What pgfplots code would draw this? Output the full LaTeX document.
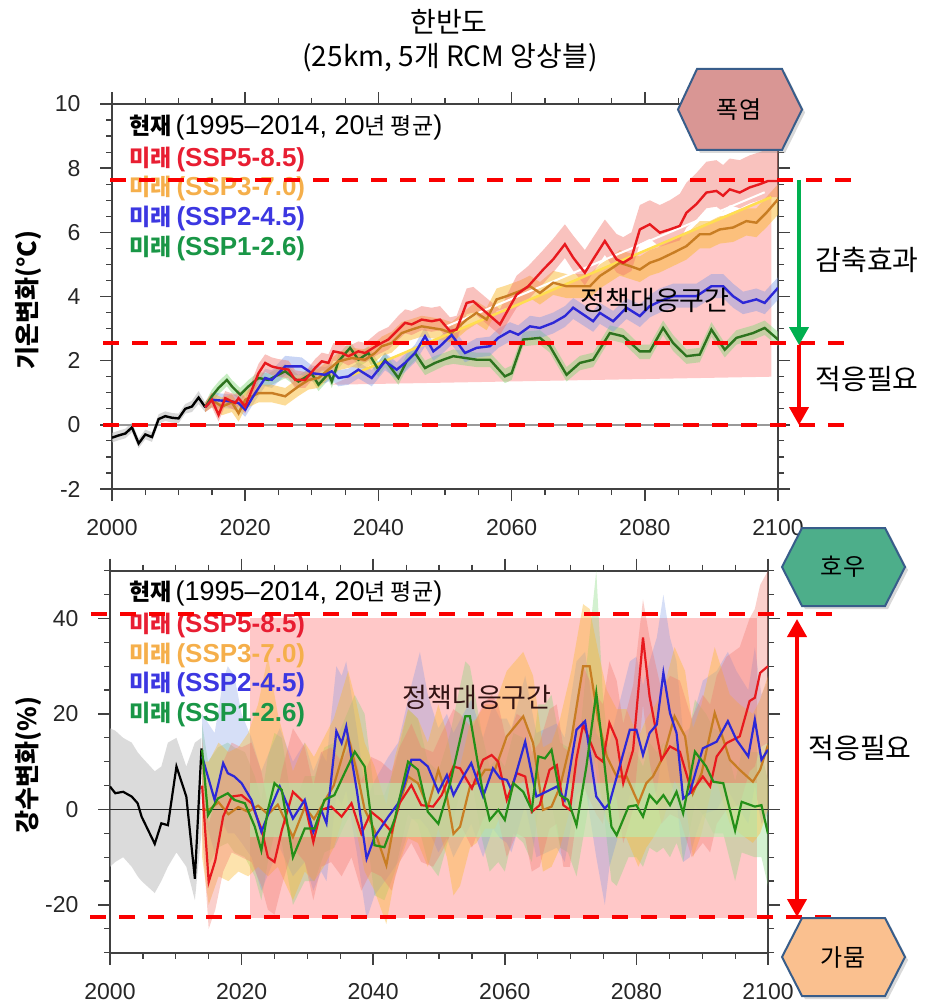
\documentclass[border=0pt]{standalone}
\usepackage{pgfplots}
\pgfplotsset{compat=1.18}
\usepackage{pgfplotstable}
\usepgfplotslibrary{fillbetween}
\usetikzlibrary{shadows,arrows.meta}
\usepackage{fontspec}
\setmainfont{Noto Sans CJK KR}
\newfontfamily\ticksans{Liberation Sans}
\newfontfamily\lat{Liberation Sans}
\newcommand\fs[1]{\fontsize{#1}{#1}\selectfont}

\definecolor{cRed}{RGB}{232,25,30}
\definecolor{cOrange}{RGB}{200,125,35}
\definecolor{cBlue}{RGB}{45,40,215}
\definecolor{cGreen}{RGB}{45,115,30}
\definecolor{lRed}{RGB}{232,30,50}
\definecolor{lOrange}{RGB}{245,175,75}
\definecolor{lBlue}{RGB}{60,55,225}
\definecolor{lGreen}{RGB}{25,150,70}
\definecolor{bRed}{RGB}{242,120,110}
\definecolor{bOrange}{RGB}{250,185,50}
\definecolor{bBlue}{RGB}{120,150,230}
\definecolor{bGreen}{RGB}{130,215,120}
\definecolor{bGray}{RGB}{190,190,190}
\definecolor{cPink}{RGB}{255,200,200}
\definecolor{cGband}{RGB}{185,240,175}
\definecolor{axgray}{RGB}{65,65,65}
\definecolor{dRed}{RGB}{250,0,0}
\definecolor{aGreen}{RGB}{0,176,80}
\definecolor{hexB}{RGB}{56,93,138}
\definecolor{hex1}{RGB}{217,150,148}
\definecolor{hex2}{RGB}{77,174,138}
\definecolor{hex3}{RGB}{250,192,143}

% ---------------- top panel (temperature) ----------------
\pgfplotstableread{
x y lo hi
2000 -0.40 -0.55 -0.25
2001 -0.33 -0.48 -0.18
2002 -0.27 -0.42 -0.12
2003 -0.08 -0.23 0.07
2004 -0.58 -0.73 -0.43
2005 -0.30 -0.45 -0.15
2006 -0.38 -0.53 -0.23
2007 0.18 0.03 0.33
2008 0.27 0.12 0.42
2009 0.22 0.07 0.37
2010 0.20 0.05 0.35
2011 0.50 0.35 0.65
2012 0.57 0.40 0.75
2013 0.85 0.65 1.05
2014 0.55 0.40 0.70
}\tTblack
\pgfplotstableread{
x y lo hi
2014 0.55 0.40 0.70
2015 0.78 0.55 1.00
2016 0.31 0.10 0.55
2017 0.83 0.60 1.05
2018.5 0.68 0.45 0.95
2019 0.83 0.60 1.10
2020 0.57 0.35 0.85
2022 1.61 1.35 1.90
2023 1.93 1.65 2.20
2024 1.82 1.55 2.10
2025 1.77 1.50 2.05
2026.5 1.72 1.45 2.00
2027.5 1.40 1.15 1.70
2029 1.40 1.15 1.65
2030.5 1.77 1.50 2.05
2031.5 1.98 1.70 2.25
2032.5 1.93 1.65 2.20
2033.25 2.29 2.00 2.55
2034.5 2.24 1.95 2.50
2035.5 2.14 1.85 2.45
2037 2.29 2.00 2.60
2038 2.24 1.95 2.55
2040 2.50 2.20 2.90
2041.5 2.66 2.35 3.05
2043 2.97 2.65 3.40
2044 3.18 2.85 3.60
2045 3.13 2.80 3.55
2046.5 3.28 2.95 3.70
2048 3.23 2.90 3.65
2049.25 3.28 2.95 3.70
2050.75 2.92 2.60 3.35
2051.75 2.97 2.65 3.40
2053.25 3.80 3.45 4.25
2054.25 3.85 3.50 4.30
2056.25 3.49 3.15 3.95
2058.25 3.13 2.80 3.60
2060.75 4.06 3.65 4.65
2062.5 4.32 3.90 4.95
2064.75 4.84 4.40 5.45
2066.25 5.16 4.75 5.80
2068 5.63 5.20 6.25
2069.25 5.21 4.80 5.90
2071 4.74 4.35 5.45
2072.25 5.16 4.75 5.85
2074 5.73 5.30 6.40
2075.75 5.16 4.75 5.95
2076.75 5.05 4.65 5.85
2078 5.21 4.80 6.00
2079.25 6.09 5.65 6.85
2080.75 6.25 5.80 7.00
2082.25 5.99 5.55 6.85
2083.75 6.09 5.65 7.00
2085.25 6.20 5.75 7.20
2086.25 6.61 6.15 7.55
2087.75 6.88 6.40 7.85
2089.25 7.24 6.75 8.20
2090.75 7.29 6.80 8.25
2091.75 7.14 6.65 8.10
2092.75 7.34 6.85 8.30
2094.25 7.24 6.75 8.25
2095.75 7.40 6.90 8.40
2097.25 7.50 7.00 8.50
2098.5 7.60 7.10 8.60
2100 7.60 7.10 8.65
}\tTred
\pgfplotstableread{
x y lo hi
2014 0.55 0.40 0.70
2015 0.78 0.55 1.00
2016.5 0.57 0.30 0.85
2018 0.70 0.40 0.95
2019 0.36 0.10 0.65
2020 0.78 0.50 1.05
2022 0.99 0.70 1.25
2024 0.99 0.70 1.25
2026 0.89 0.60 1.15
2028 1.20 0.90 1.45
2029.5 1.40 1.10 1.65
2031 1.46 1.15 1.75
2032.5 1.72 1.45 2.00
2034 1.98 1.70 2.25
2036 2.08 1.80 2.40
2038 2.03 1.75 2.35
2039.5 2.24 1.95 2.55
2040.5 2.45 2.15 2.75
2042 2.55 2.25 2.90
2043.5 2.86 2.55 3.20
2045 2.97 2.65 3.30
2046.5 3.07 2.75 3.40
2048 3.02 2.70 3.35
2049.5 2.97 2.65 3.30
2051 2.86 2.55 3.20
2053.25 3.28 2.95 3.60
2054.75 3.49 3.15 3.85
2056.25 3.28 2.95 3.65
2057.75 3.91 3.55 4.25
2059.25 4.01 3.65 4.35
2061.25 4.17 3.80 4.50
2062.75 4.32 3.95 4.65
2064.25 4.11 3.75 4.45
2066.25 4.43 4.05 4.80
2068.25 4.32 3.95 4.70
2070.25 4.32 3.95 4.70
2071.75 4.32 3.95 4.70
2073.25 4.64 4.25 5.00
2074.75 4.84 4.45 5.20
2076.25 5.05 4.65 5.45
2077.75 4.95 4.55 5.35
2079.25 4.84 4.45 5.25
2080.75 5.05 4.65 5.45
2082.25 5.16 4.75 5.55
2084.25 5.36 4.95 5.75
2086.25 5.57 5.15 5.95
2088.25 5.94 5.50 6.35
2089.75 5.94 5.50 6.35
2091.25 6.09 5.65 6.50
2093.25 6.15 5.70 6.55
2095.25 6.35 5.90 6.75
2096.75 6.30 5.85 6.75
2098.25 6.61 6.15 7.10
2100 7.03 6.55 7.50
}\tTorange
\pgfplotstableread{
x y lo hi
2014 0.55 0.40 0.70
2015 0.78 0.55 1.00
2018 0.73 0.50 0.95
2019 0.68 0.45 0.90
2020 0.47 0.25 0.70
2021.5 0.99 0.75 1.25
2023 1.46 1.20 1.75
2024 1.40 1.15 1.70
2026 1.82 1.55 2.15
2028.5 1.82 1.55 2.10
2030 1.61 1.35 1.85
2032 1.56 1.30 1.80
2033 1.67 1.40 1.90
2034 1.46 1.20 1.70
2035.5 1.51 1.25 1.75
2037 1.72 1.45 1.95
2039 1.46 1.20 1.70
2041 1.98 1.70 2.25
2042.75 1.72 1.45 1.95
2044 1.93 1.65 2.20
2045.5 2.24 1.95 2.50
2047 2.76 2.45 3.05
2048.25 2.29 2.00 2.55
2049.25 2.45 2.15 2.75
2051 2.80 2.50 3.10
2053 2.24 1.95 2.50
2054.75 2.40 2.10 2.70
2056.75 2.45 2.15 2.75
2058 2.71 2.40 3.00
2059.75 2.92 2.60 3.20
2061 2.81 2.50 3.10
2062.75 3.07 2.75 3.40
2064.25 3.02 2.70 3.35
2066.25 3.18 2.85 3.50
2068 3.39 3.05 3.70
2069.25 3.65 3.30 3.95
2070.75 3.44 3.10 3.75
2072.25 3.23 2.90 3.55
2073.25 3.49 3.15 3.80
2075.25 3.23 2.90 3.55
2077.25 3.65 3.30 3.95
2079.25 3.39 3.05 3.75
2080.75 3.70 3.35 4.05
2082.25 3.85 3.50 4.25
2084.25 4.01 3.65 4.40
2085.75 4.01 3.65 4.40
2087.75 4.01 3.65 4.40
2090 4.32 3.95 4.70
2091.75 4.32 3.95 4.70
2093.25 4.01 3.65 4.40
2094.75 3.80 3.45 4.15
2096.75 3.91 3.55 4.25
2098 3.80 3.45 4.15
2100 4.27 3.90 4.60
}\tTblue
\pgfplotstableread{
x y lo hi
2014 0.55 0.40 0.70
2015 0.89 0.70 1.10
2016 1.15 0.95 1.35
2017.25 1.40 1.20 1.60
2018 1.20 1.00 1.40
2019.25 0.94 0.75 1.15
2020.5 1.20 1.00 1.40
2022 1.46 1.25 1.65
2023.5 1.40 1.20 1.60
2026 1.67 1.45 1.90
2028 1.35 1.15 1.55
2030 1.60 1.40 1.80
2031 1.25 1.05 1.45
2032.5 1.60 1.40 1.80
2033 1.35 1.15 1.55
2034 1.98 1.75 2.20
2035.75 2.40 2.20 2.60
2037 2.03 1.80 2.25
2038.5 2.24 2.00 2.45
2040 1.72 1.50 1.95
2041 2.03 1.80 2.25
2043 1.46 1.25 1.65
2044.25 1.98 1.75 2.20
2045.5 2.24 2.00 2.45
2047 1.77 1.55 2.00
2048.5 1.93 1.70 2.15
2050 2.05 1.85 2.25
2051.25 2.14 1.90 2.35
2054.75 2.03 1.80 2.25
2056.75 2.03 1.80 2.25
2059 1.51 1.30 1.75
2060 1.61 1.40 1.85
2061.75 2.66 2.45 2.90
2064.25 2.71 2.50 2.95
2065.75 2.45 2.25 2.70
2068.25 1.56 1.35 1.80
2070.25 1.93 1.70 2.15
2072.25 2.03 1.80 2.25
2074.75 2.86 2.65 3.10
2076.75 2.76 2.55 3.00
2079.25 2.29 2.05 2.50
2080.75 2.29 2.05 2.50
2082.75 3.02 2.80 3.25
2084.25 2.55 2.30 2.80
2086.25 2.14 1.90 2.35
2088.25 2.19 1.95 2.40
2090 2.97 2.75 3.20
2092 2.34 2.10 2.55
2093.75 2.71 2.50 2.95
2096.25 2.86 2.65 3.10
2098 3.02 2.80 3.25
2100 2.66 2.45 2.90
}\tTgreen

% ---------------- bottom panel (precipitation) ----------------
\pgfplotstableread{
x y lo hi
2000 4.8 -12 17
2000.8 3.4 -11 16.5
2002 3.7 -10 15
2003.3 2.7 -12 14
2004.2 1.3 -14 12
2004.8 -1.5 -15 11
2006.8 -7.2 -17.5 8
2007.8 -2.9 -15 9
2008.8 -3.3 -12 14
2010.1 9.0 -9 15
2011.6 2.7 -12 9
2012.9 -14.5 -19 14
2013.9 12.8 -5 15
}\tPblack
\pgfplotstableread{
x y lo hi
2014 5.0 -5 15
2015 -15.2 -25 -3
2016 -10.7 -21 2
2017.2 -1.5 -13 10
2018.5 2.7 -9 14
2020 3.0 -10 13
2021.5 1.3 -11 14
2023 -4.0 -16 8
2024 -10.0 -21 1
2025 -11.0 -22 0
2026.1 -4.4 -16 8
2027.8 3.7 -8 17
2029.6 1.3 -11 13
2030.9 -6.8 -19 5
2032.1 -0.1 -12 12
2033.6 0.6 -11 13
2035.2 -1.5 -14 10
2036.7 1.3 -10 14
2038.2 -5.1 -17 6
2039.7 -0.5 -13 11
2041.2 -2.2 -14 10
2042.8 -4.7 -17 8
2044 1.3 -11 13
2045.8 5.1 -7 18
2047.3 0.9 -11 13
2049.1 0.6 -12 12
2050.4 3.0 -9 16
2052.2 9.0 -4 21
2053.2 8.6 -3 20
2055 4.4 -8 17
2056.7 10.4 -2 22
2058 11.4 0 24
2059 10.0 -2 22
2060.3 2.0 -10 14
2061.8 7.6 -5 20
2063.1 6.9 -6 19
2064.1 -0.5 -13 12
2065.3 0.9 -12 14
2066.8 8.3 -4 21
2067.9 9.3 -3 22
2068.9 0.9 -12 13
2069.9 -0.1 -12 12
2070.9 10.7 -2 23
2071.9 17.8 5 30
2073.9 11.1 -1 24
2074.9 10.0 -3 22
2075.9 18.1 5 31
2077 14.6 2 27
2078 5.5 -7 18
2079.5 12.5 0 26
2081 36.0 22 44
2082 23.7 10 36
2083.8 10.4 -3 25
2085.1 13.2 -1 28
2086.6 12.1 -2 27
2088.4 3.7 -10 19
2090.1 6.9 -7 24
2091.2 4.8 -9 22
2092.2 11.1 -3 28
2093.7 13.9 0 32
2095.7 15.3 1 34
2097.2 22.7 8 40
2098 23.4 9 42
2098.8 28.6 13 47
2100 30.0 14 50
}\tPred
\pgfplotstableread{
x y lo hi
2014 0.0 -10 10
2015 -0.1 -20 10
2016.5 1.5 -14 14
2018 -1.0 -15 12
2019.5 0.5 -13 13
2021 -0.5 -14 16
2022.5 0.8 -12 22
2024 -1.0 -14 32
2025.5 1.0 -12 20
2027.8 -5.8 -19 8
2029.6 0.5 -13 14
2031 -2.0 -15 11
2032.5 1.5 -12 15
2034 5.0 -8 19
2036.2 15.3 2 29
2037.5 8.0 -5 22
2038.7 0.0 -13 14
2040.2 -4.4 -17 9
2042 -11.7 -24 1
2043.3 -1.9 -14 11
2045.3 6.9 -6 21
2046.8 5.5 -7 19
2048.3 0.5 -12 14
2049.9 8.3 -4 22
2051.2 2.7 -10 16
2052.2 -5.1 -18 8
2053.2 -3.6 -16 9
2054.7 4.8 -8 18
2055.7 5.5 -7 19
2057 8.3 -4 22
2058.5 8.3 -4 22
2060.3 15.3 2 29
2062.8 19.5 6 33
2064.3 13.9 1 28
2065.8 -0.1 -13 13
2067.1 0.6 -12 14
2068.4 4.8 -8 19
2070.1 14.6 1 29
2071.9 30.0 16 43
2072.9 30.0 16 42
2074.2 18.8 5 33
2075.5 11.1 -2 25
2077 6.9 -6 21
2078.5 6.9 -6 21
2080.3 1.3 -12 15
2081.5 5.5 -8 19
2082.5 6.9 -6 21
2084.1 11.1 -2 25
2085.8 19.5 6 34
2087.4 15.3 2 29
2088.6 3.4 -10 17
2089.9 7.6 -5 22
2091.9 20.2 7 34
2094.2 10.4 -3 24
2095.7 8.3 -5 22
2097.7 5.8 -7 20
2098.8 8.3 -5 23
2100 13.5 0 28
}\tPorange
\pgfplotstableread{
x y lo hi
2014 11.1 0 20
2015.9 2.0 -9 16
2017.2 9.7 -3 27
2017.9 7.6 -5 30
2018.9 6.9 -5 28
2020 5.5 -7 20
2021.5 2.0 -10 15
2023 -4.7 -17 8
2024.5 0.6 -12 13
2025.8 4.8 -8 17
2027.8 -1.9 -14 10
2029.6 2.0 -11 14
2030.9 -4.7 -17 8
2032.1 -0.1 -13 12
2032.9 -2.9 -15 10
2034.4 16.4 3 30
2035.2 13.9 1 28
2035.9 17.4 4 31
2037.5 4.1 -9 17
2039 -10.3 -23 2
2040.2 -5.8 -18 6
2042.3 -1.5 -14 11
2043.8 1.3 -11 14
2044.8 5.5 -7 20
2045.8 10.4 -2 26
2047.1 10.4 -2 33
2048.3 9.0 -4 24
2049.9 3.7 -9 17
2051.2 7.2 -6 20
2052.2 3.0 -10 16
2053.7 6.9 -6 20
2054.9 9.7 -3 23
2056.7 2.7 -10 15
2058.2 8.6 -4 22
2059.3 6.5 -6 19
2060.3 6.2 -7 19
2061 4.1 -9 17
2063.1 14.2 1 28
2064.8 2.7 -10 16
2067.9 4.8 -8 18
2069.1 2.0 -11 15
2070.9 16.7 3 31
2072.2 18.5 5 33
2073.9 2.7 -10 16
2075.2 0.2 -20 13
2075.9 1.3 -12 14
2079 16.7 3 31
2080 16.7 3 32
2081 11.4 -2 26
2082 16.0 2 31
2083.1 17.8 4 36
2084.1 28.6 14 45
2085.1 20.2 6 36
2086.1 16.0 2 31
2087.1 2.3 -11 16
2088.1 3.4 -10 17
2089.1 8.3 -5 22
2090.1 12.8 -1 27
2092.2 14.2 0 29
2093.9 18.5 4 33
2095.2 14.6 1 29
2097 11.1 -3 25
2098 18.8 5 34
2099 10.4 -3 24
2100 12.5 -1 27
}\tPblue
\pgfplotstableread{
x y lo hi
2014 12.5 2 18
2014.9 -1.2 -12 10
2016.4 2.3 -8 13
2017.9 3.4 -7 14
2018.9 2.0 -9 13
2020.5 1.3 -10 12
2022 -3.6 -14 7
2023 -8.6 -19 2
2024 -0.1 -11 11
2025 5.5 -5 16
2026.1 4.1 -7 15
2027.8 -10.0 -20 0
2029.6 -4.0 -15 7
2031.1 -4.0 -15 7
2032.6 2.0 -9 13
2034.1 3.0 -8 14
2035.4 6.9 -4 18
2037.2 12.1 1 24
2038.7 9.0 -2 20
2040.2 -7.5 -18 3
2041.7 -7.9 -19 3
2043.3 -1.9 -13 9
2045.3 10.0 -1 21
2046.8 8.3 -3 19
2048.3 -0.5 -11 10
2049.9 -3.0 -14 8
2051.7 5.5 -5 16
2054 19.5 8 31
2054.7 19.5 8 30
2056.5 4.8 -6 16
2057.7 -2.2 -13 9
2059 -0.1 -11 11
2060 -2.2 -13 9
2061.3 5.5 -5 16
2062.8 3.7 -7 15
2064.1 -0.1 -11 11
2065.1 11.1 0 22
2066.1 10.7 0 22
2067.1 12.5 1 24
2068.4 3.0 -8 14
2069.6 2.0 -9 13
2070.9 -3.3 -14 8
2072.4 9.0 -2 30
2073.9 24.4 12 50
2074.9 12.5 1 24
2076.2 -3.6 -15 7
2077 -5.4 -16 5
2078.8 0.6 -10 12
2080 0.9 -10 12
2081 -1.5 -12 9
2082 3.0 -8 14
2083.1 1.3 -9 12
2084.1 3.0 -8 14
2085.1 0.9 -10 12
2086.1 3.7 -7 15
2087.1 -0.8 -11 10
2088.9 12.1 1 23
2090.6 9.0 -2 20
2091.7 5.8 -5 17
2093.2 5.5 -5 16
2095 -4.4 -15 6
2096 1.6 -9 12
2098 0.6 -10 12
2099 0.9 -10 12
2100 -5.1 -16 6
}\tPgreen

\newcommand{\band}[3]{%
  \addplot[draw=none, name path=#1h, forget plot] table[x=x,y=hi]{#2};
  \addplot[draw=none, name path=#1l, forget plot] table[x=x,y=lo]{#2};
  \addplot[#3, forget plot] fill between[of=#1h and #1l];
}

\pgfplotsset{
  panel/.style={
    scale only axis,
    xmin=2000, xmax=2100,
    xtick={2000,2020,2040,2060,2080,2100},
    xticklabels={2000,2020,2040,2060,2080,2100},
    minor x tick num=3,
    tick align=outside,
    major tick length=12pt, minor tick length=6pt,
    axis line style={line width=1.6pt, color=axgray},
    major tick style={line width=1.5pt, color=axgray},
    minor tick style={line width=1.2pt, color=axgray},
    tick label style={font=\fs{23}\ticksans, color=black!85},
    xticklabel style={yshift=-15pt},
    yticklabel style={xshift=-16pt},
  }
}

\newcommand\futline[1]{\fs{23}\bfseries 미래\hspace{5pt}{\lat\fs{26}\bfseries (#1)}}
\newcommand\nowline{\fs{23}{\bfseries 현재}\hspace{4pt}{\lat\fs{27}(1995–2014, 20}년 평균{\lat\fs{27})}}

\begin{document}
\begin{tikzpicture}

% ================= TOP AXIS =================
\begin{axis}[panel, at={(112pt,-489pt)}, anchor=south west,
  width=666pt, height=385pt, ymin=-2, ymax=10,
  ytick={-2,0,2,4,6,8,10}, yticklabels={-2,0,2,4,6,8,10},
  minor y tick num=3]
  % policy wedge
  \addplot[draw=none, name path=wl, forget plot] coordinates {(2033,1.25) (2099,1.5)};
  \addplot[draw=none, name path=wu, forget plot] coordinates {(2033,1.25) (2099,7.15)};
  \addplot[fill=cPink, forget plot] fill between[of=wu and wl];
  \band{k}{\tTblack}{fill=bGray, opacity=0.6}
  \band{g}{\tTgreen}{fill=bGreen, opacity=0.45}
  \band{b}{\tTblue}{fill=bBlue, opacity=0.4}
  \band{o}{\tTorange}{fill=bOrange, opacity=0.5}
  \band{r}{\tTred}{fill=bRed, opacity=0.45}
  \addplot[white, line width=2pt, forget plot] coordinates {(2050,3.05) (2098,7.25)};
  \addplot[color={rgb,255:red,255;green,222;blue,80}, line width=2.5pt, forget plot] coordinates {(2036,1.55) (2099,7.1)};
  \addplot[color=black!40, line width=1.5pt, forget plot] coordinates {(2000,0) (2100,0)};
  \addplot[black, line width=2.4pt] table[x=x,y=y]{\tTblack};
  \addplot[cGreen, line width=2.4pt] table[x=x,y=y]{\tTgreen};
  \addplot[cOrange, line width=2.4pt] table[x=x,y=y]{\tTorange};
  \addplot[cBlue, line width=2.4pt] table[x=x,y=y]{\tTblue};
  \addplot[cRed, line width=2.4pt] table[x=x,y=y]{\tTred};
\end{axis}

% ================= BOTTOM AXIS =================
\begin{axis}[panel, at={(110pt,-952.7pt)}, anchor=south west,
  width=658pt, height=382pt, ymin=-30, ymax=50,
  ytick={-20,0,20,40}, yticklabels={-20,0,20,40},
  minor ytick={-30,-25,...,50}]
  \addplot[draw=none, name path=pl, forget plot] coordinates {(2021.3,-22.8) (2098.3,-22.8)};
  \addplot[draw=none, name path=pu, forget plot] coordinates {(2021.3,40) (2098.3,40)};
  \addplot[fill=cPink, forget plot] fill between[of=pu and pl];
  \band{k}{\tPblack}{fill=bGray, opacity=0.55}
  \band{g}{\tPgreen}{fill=bGreen, opacity=0.35}
  \band{b}{\tPblue}{fill=bBlue, opacity=0.3}
  \band{o}{\tPorange}{fill=bOrange, opacity=0.4}
  \band{r}{\tPred}{fill=bRed, opacity=0.35}
  \addplot[draw=none, name path=gl, forget plot] coordinates {(2021.3,-5.8) (2098.3,-5.8)};
  \addplot[draw=none, name path=gu, forget plot] coordinates {(2021.3,5.6) (2098.3,5.6)};
  \addplot[fill=cGband, opacity=0.6, forget plot] fill between[of=gu and gl];
  \addplot[color=black!85, line width=1.5pt, forget plot] coordinates {(2000,0) (2100,0)};
  \addplot[black, line width=2.2pt] table[x=x,y=y]{\tPblack};
  \addplot[cOrange, line width=2.2pt] table[x=x,y=y]{\tPorange};
  \addplot[cRed, line width=2.2pt] table[x=x,y=y]{\tPred};
  \addplot[cBlue, line width=2.2pt] table[x=x,y=y]{\tPblue};
  \addplot[cGreen!80!green, line width=2.2pt] table[x=x,y=y]{\tPgreen};
\end{axis}

% ================= titles & labels =================
\node at (449pt,-22pt) {\fs{28}한반도};
\node at (450pt,-58pt) {\fs{28}(25km, 5개 RCM 앙상블)};
\node[rotate=90] at (29pt,-300pt) {\fs{25}\bfseries 기온변화(°C)};
\node[rotate=90] at (29pt,-765pt) {\fs{25}\bfseries 강수변화(\%)};

% legends
\node[anchor=west, inner sep=0pt] at (129pt,-128pt) {\nowline};
\node[anchor=west, inner sep=0pt] at (129pt,-594pt) {\nowline};
\node[anchor=west, inner sep=0pt, text=lRed] at (129pt,-159pt) {\futline{SSP5-8.5}};
\node[anchor=west, inner sep=0pt, text=lOrange] at (129pt,-188pt) {\futline{SSP3-7.0}};
\node[anchor=west, inner sep=0pt, text=lBlue] at (129pt,-218pt) {\futline{SSP2-4.5}};
\node[anchor=west, inner sep=0pt, text=lGreen] at (129pt,-248pt) {\futline{SSP1-2.6}};
\node[anchor=west, inner sep=0pt, text=lRed] at (129pt,-625pt) {\futline{SSP5-8.5}};
\node[anchor=west, inner sep=0pt, text=lOrange] at (129pt,-655pt) {\futline{SSP3-7.0}};
\node[anchor=west, inner sep=0pt, text=lBlue] at (129pt,-684pt) {\futline{SSP2-4.5}};
\node[anchor=west, inner sep=0pt, text=lGreen] at (129pt,-714pt) {\futline{SSP1-2.6}};

\node at (655pt,-300pt) {\fs{27}정책대응구간};
\node[text={rgb,255:red,50;green,20;blue,20}] at (477pt,-697pt) {\fs{27}정책대응구간};

% dashed reference lines
\begin{scope}[dRed, line width=4pt, dash pattern=on 16pt off 13pt]
  \draw (110pt,-180pt) -- (855pt,-180pt);
  \draw (103pt,-343pt) -- (848pt,-343pt);
  \draw (103pt,-425pt) -- (848pt,-425pt);
  \draw (91pt,-614pt) -- (835pt,-614pt);
  \draw (90pt,-917pt) -- (835pt,-917pt);
\end{scope}

% arrows
\draw[aGreen, line width=4pt, -{Triangle[width=19pt,length=18pt]}] (799pt,-180pt) -- (799pt,-345pt);
\draw[dRed, line width=4pt, -{Triangle[width=19pt,length=18pt]}] (799pt,-345pt) -- (799pt,-425pt);
\draw[dRed, line width=4pt, {Triangle[width=19pt,length=18pt]}-{Triangle[width=19pt,length=18pt]}] (797pt,-619pt) -- (797pt,-917pt);
\node at (867pt,-260pt) {\fs{28}감축효과};
\node at (867pt,-379pt) {\fs{28}적응필요};
\node at (860pt,-748pt) {\fs{28}적응필요};

% hexagons
\path[fill=hex1, draw=hexB, line width=2pt, drop shadow={shadow xshift=3pt, shadow yshift=-3pt, opacity=0.3}]
  (678pt,-109.5pt) -- (697pt,-69pt) -- (782pt,-69pt) -- (802pt,-109.5pt) -- (782pt,-150pt) -- (697pt,-150pt) -- cycle;
\node at (739pt,-109.5pt) {\fs{24}폭염};
\path[fill=hex2, draw=hexB, line width=2pt, drop shadow={shadow xshift=3pt, shadow yshift=-3pt, opacity=0.3}]
  (782pt,-567pt) -- (802pt,-528pt) -- (885pt,-528pt) -- (905pt,-567pt) -- (885pt,-606pt) -- (802pt,-606pt) -- cycle;
\node at (843pt,-567pt) {\fs{24}호우};
\path[fill=hex3, draw=hexB, line width=2pt, drop shadow={shadow xshift=3pt, shadow yshift=-3pt, opacity=0.3}]
  (782pt,-957pt) -- (802pt,-918pt) -- (885pt,-918pt) -- (905pt,-957pt) -- (885pt,-996pt) -- (802pt,-996pt) -- cycle;
\node at (843pt,-957pt) {\fs{24}가뭄};

\pgfresetboundingbox
\path (0pt,0pt) rectangle (924pt,-1003pt);
\end{tikzpicture}
\end{document}
